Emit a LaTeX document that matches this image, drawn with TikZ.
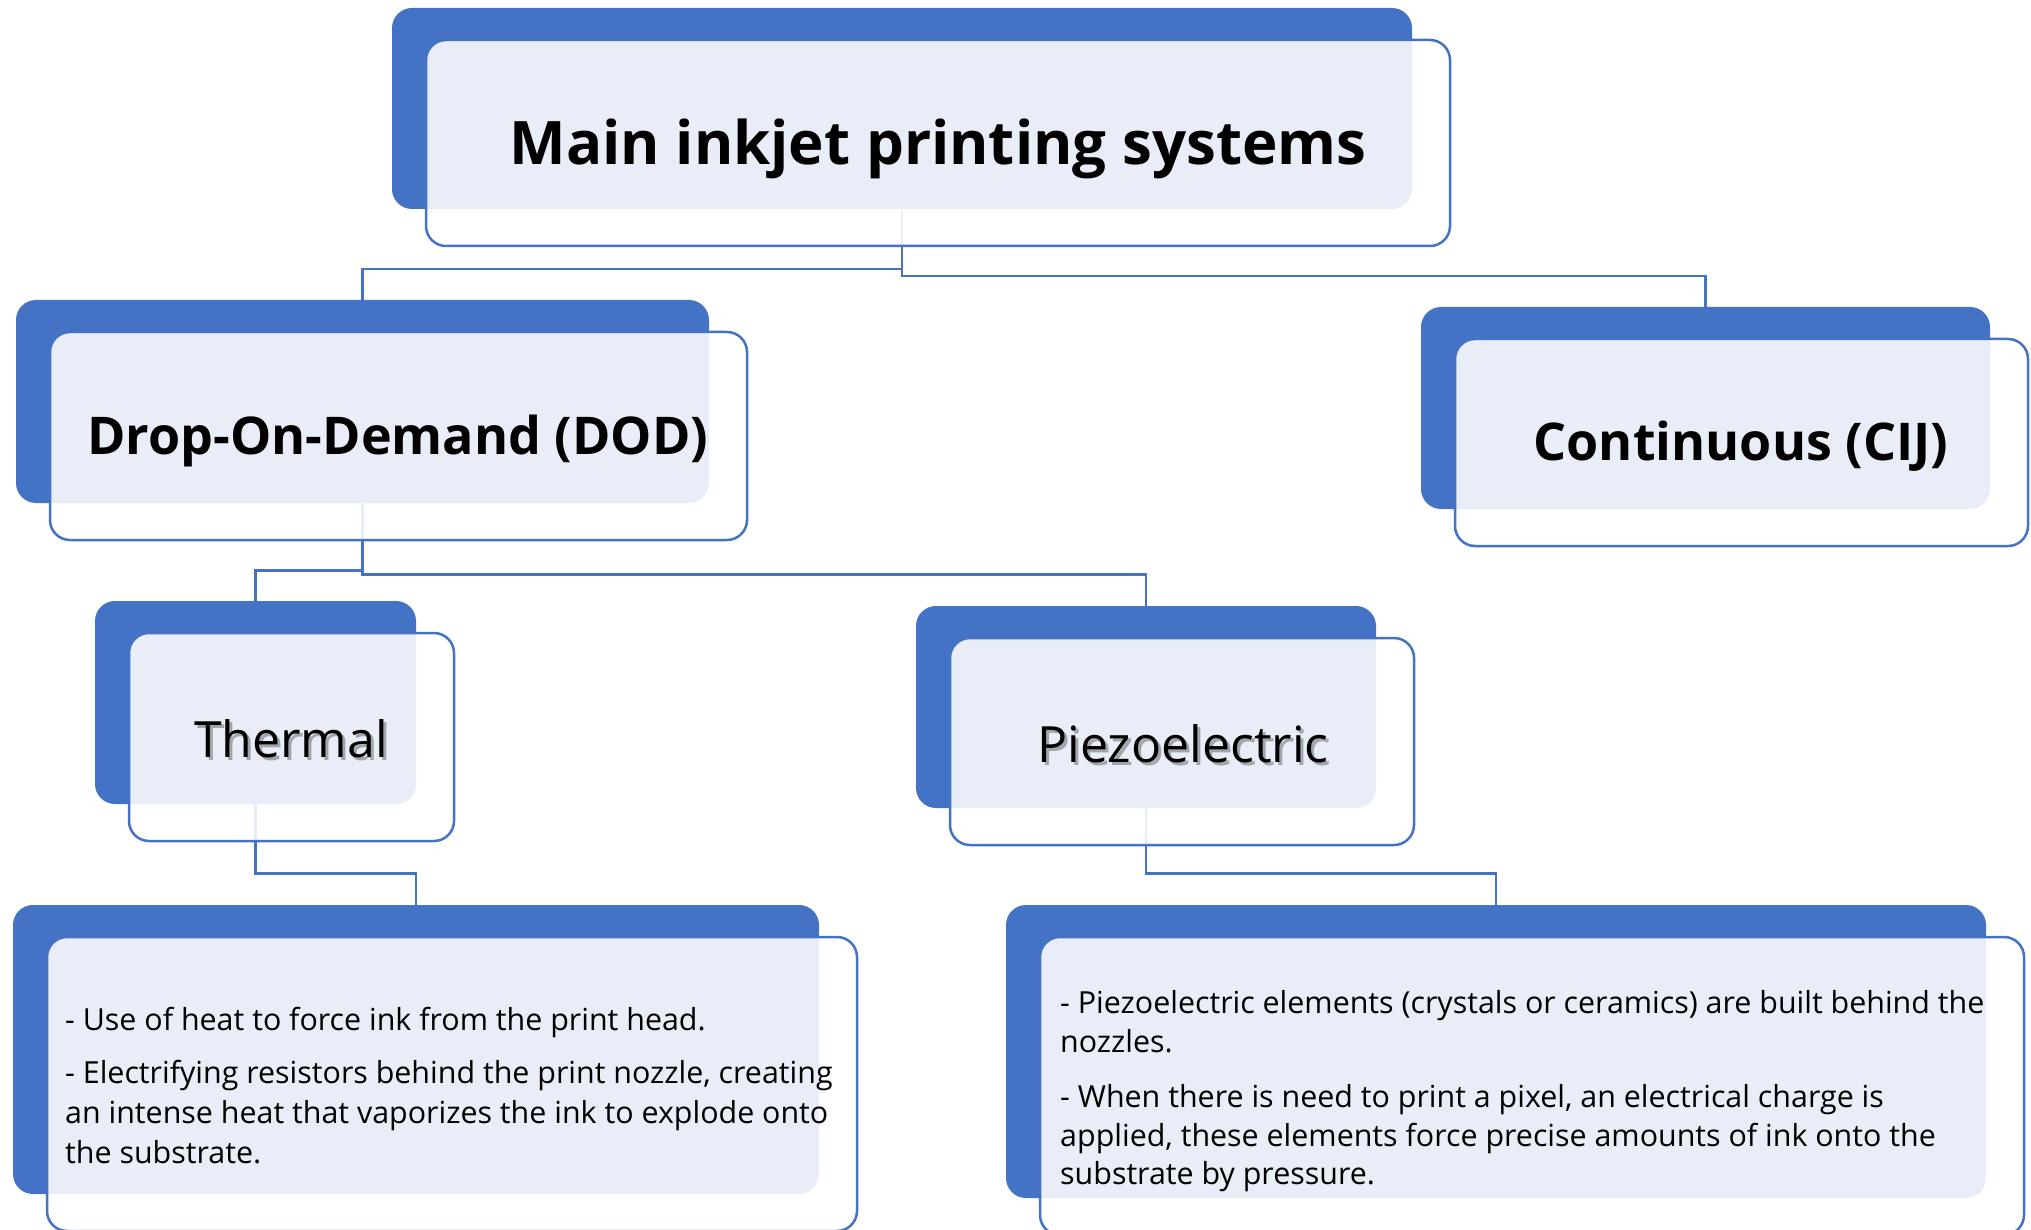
\documentclass[tikz,border=0pt]{standalone}
\usepackage{fontspec}
\setmainfont{Open Sans}
\usetikzlibrary{fit}
\definecolor{accent}{HTML}{4472C4}
\pgfdeclarelayer{bg}
\pgfsetlayers{bg,main}
\tikzset{
  backbox/.style={rectangle, rounded corners=20pt, fill=accent, draw=none, inner sep=0pt},
  frontbox/.style={rectangle, rounded corners=20pt, fill=white, fill opacity=0.88, draw=accent, line width=2.5pt, inner sep=0pt},
  conn/.style={draw=accent, line width=2.6pt},
  txt/.style={inner sep=0pt, text=black},
  bigbold/.style={txt, anchor=base, font=\fontsize{52}{60}\selectfont\bfseries},
  titlebold/.style={txt, anchor=base, font=\fontsize{60}{70}\selectfont\bfseries},
  midtxt/.style={txt, anchor=base, font=\fontsize{50}{56}\selectfont},
  shadowtxt/.style={midtxt, text=black, text opacity=0.3},
  bodytxt/.style={txt, anchor=base west, font=\fontsize{30.4}{40}\selectfont},
}
\newcommand\pairbox[5]{%
  \node[backbox, fit={(#2,#3) (#4,#5)}] (#1) {};
  \node[frontbox, fit={(#2+34,#3+32) (#4+38,#5+37)}] (#1f) {};
}
\begin{document}
\begin{tikzpicture}[x=1pt,y=-1pt]
\useasboundingbox (0,0) rectangle (2031,1230);
\begin{scope}
\clip (0,0) rectangle (2031,1230);
\pairbox{top}{392}{8}{1412}{209}
\pairbox{dod}{16}{300}{709}{503}
\pairbox{cij}{1421}{307}{1990}{509}
\pairbox{therm}{95}{601}{416}{804}
\pairbox{piezo}{916}{606}{1376}{808}
\pairbox{tdet}{13}{905}{819}{1194}
\pairbox{pdet}{1006}{905}{1986}{1198}
\end{scope}

\begin{pgfonlayer}{bg}
  \draw[conn] (top.south) -- ++(0,60) -| (dod.north);
  \draw[conn] (top.south) -- ++(0,67) -| (cij.north);
  \draw[conn] (dod.south) -- ++(0,67) -| (therm.north);
  \draw[conn] (dod.south) -- ++(0,71) -| (piezo.north);
  \draw[conn] (therm.south) -- ++(0,69) -| (tdet.north);
  \draw[conn] (piezo.south) -- ++(0,65) -| (pdet.north);
\end{pgfonlayer}

\node[titlebold] (ttop) at (938,165) {Main inkjet printing systems};
\node[bigbold] (tdod) at (398,454) {Drop-On-Demand (DOD)};
\node[bigbold] (tcij) at (1741,460) {Continuous (CIJ)};

\node[shadowtxt] (ttherms) at (294,760) {Thermal};
\node[midtxt] (ttherm) at (291,757) {Thermal};
\node[shadowtxt] (tpiezos) at (1186,765) {Piezoelectric};
\node[midtxt] (tpiezo) at (1183,762) {Piezoelectric};

\node[bodytxt] (a1) at (65,1030) {- Use of heat to force ink from the print head.};
\node[bodytxt] (a2) at (65,1083) {- Electrifying resistors behind the print nozzle, creating};
\node[bodytxt] (a3) at (65,1123) {an intense heat that vaporizes the ink to explode onto};
\node[bodytxt] (a4) at (65,1163) {the substrate.};

\node[bodytxt] (b1) at (1060,1013) {- Piezoelectric elements (crystals or ceramics) are built behind the};
\node[bodytxt] (b2) at (1060,1052) {nozzles.};
\node[bodytxt] (b3) at (1060,1107) {- When there is need to print a pixel, an electrical charge is};
\node[bodytxt] (b4) at (1060,1146) {applied, these elements force precise amounts of ink onto the};
\node[bodytxt] (b5) at (1060,1184) {substrate by pressure.};
\end{tikzpicture}
\end{document}
